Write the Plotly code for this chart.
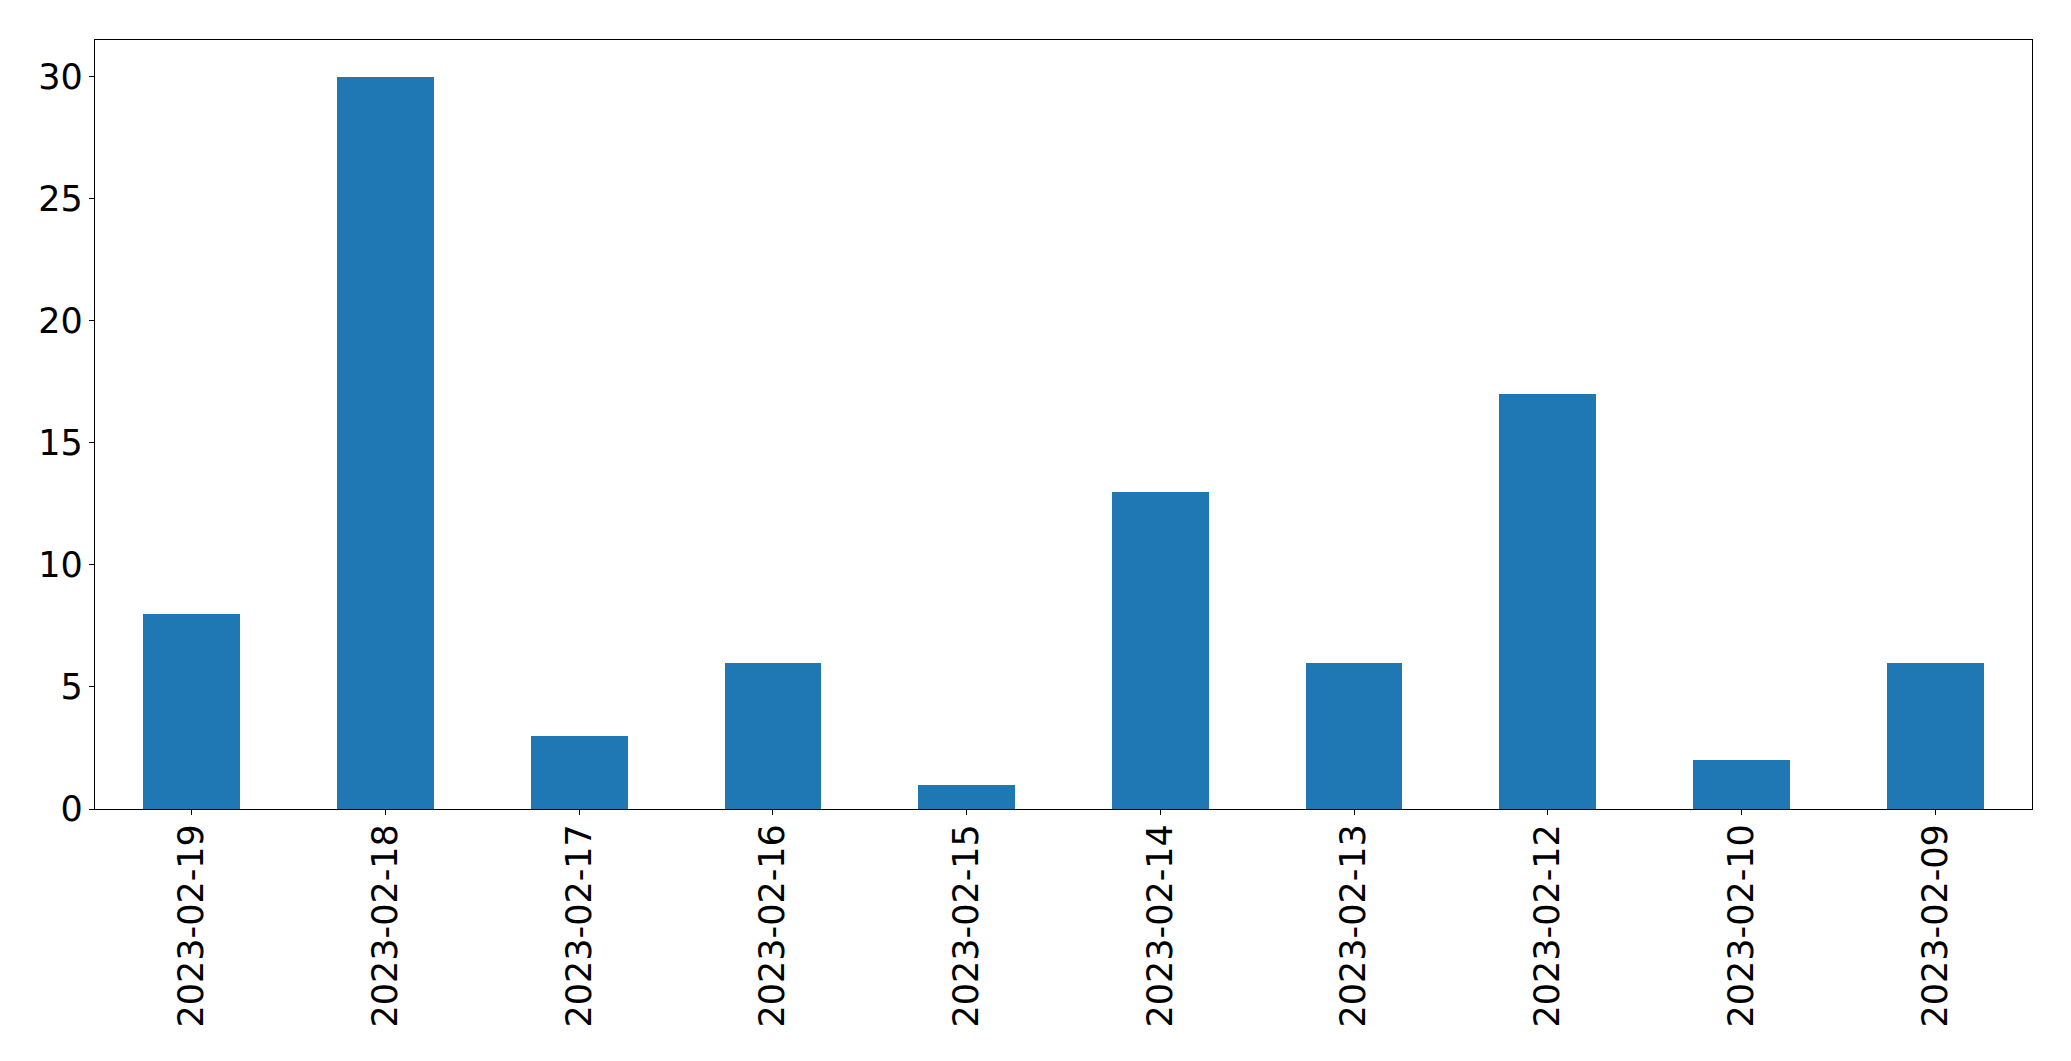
import plotly.graph_objects as go

dates = ["2023-02-19", "2023-02-18", "2023-02-17", "2023-02-16", "2023-02-15",
         "2023-02-14", "2023-02-13", "2023-02-12", "2023-02-10", "2023-02-09"]
counts = [8, 30, 3, 6, 1, 13, 6, 17, 2, 6]

fig = go.Figure(go.Bar(x=dates, y=counts, width=0.5, marker=dict(color="#1f77b4", line=dict(width=0))))

fig.update_layout(
    width=2071, height=1061,
    margin=dict(l=95, r=39, t=40, b=252, pad=0),
    paper_bgcolor="white", plot_bgcolor="white",
    font=dict(family="DejaVu Sans", size=35, color="black"),
    showlegend=False,
    bargap=0,
)
fig.update_xaxes(
    type="category", range=[-0.5, 9.5], tickangle=-90,
    showline=True, mirror=True, linecolor="black", linewidth=1.3,
    ticks="outside", ticklen=5, tickwidth=1.3, tickcolor="black",
    ticklabelstandoff=-5,
    showgrid=False, zeroline=False,
)
fig.update_yaxes(
    range=[0, 31.5], tickvals=[0, 5, 10, 15, 20, 25, 30],
    showline=True, mirror=True, linecolor="black", linewidth=1.3,
    ticks="outside", ticklen=5, tickwidth=1.3, tickcolor="black",
    ticklabelstandoff=-1,
    showgrid=False, zeroline=False,
)

fig.write_html("out.html", config={"displayModeBar": False},
               post_script="document.body.style.margin='0';document.body.style.overflow='hidden';")
